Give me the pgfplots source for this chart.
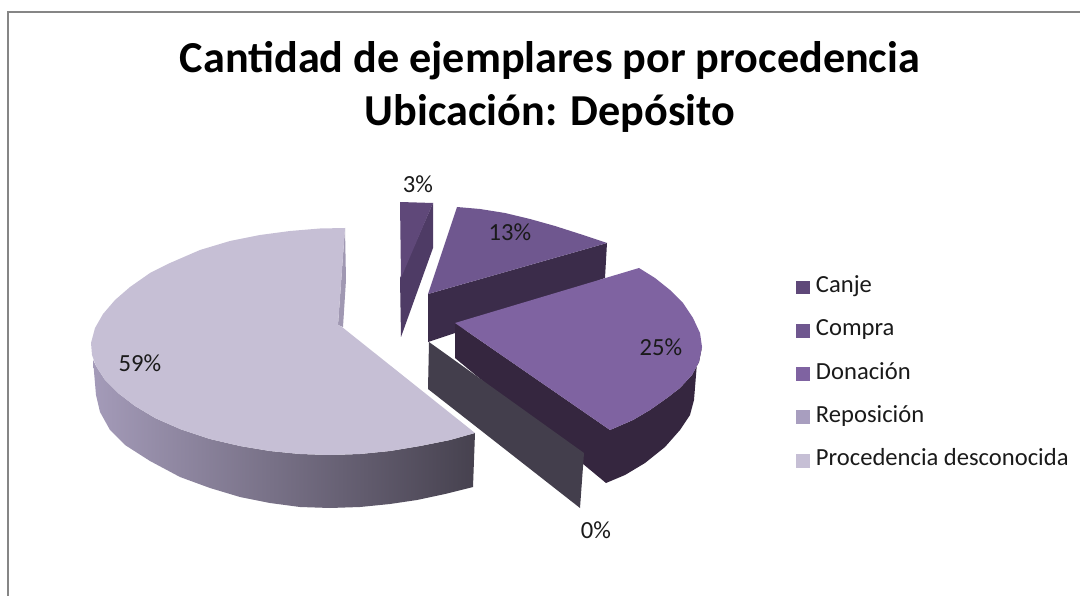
\documentclass[border=0pt]{standalone}
\usepackage{pgfplots}
\pgfplotsset{compat=1.18}
\usepackage{fontspec}
\setmainfont{Carlito}
\definecolor{canjeT}{HTML}{5F4879}
\definecolor{canjeS}{HTML}{4E3B65}
\definecolor{compT}{HTML}{6F578F}
\definecolor{compS}{HTML}{3B2C4A}
\definecolor{donT}{HTML}{7F63A1}
\definecolor{donS}{HTML}{35263F}
\definecolor{repS}{HTML}{433E4C}
\definecolor{repL}{HTML}{A89EBF}
\definecolor{procT}{HTML}{C6BFD5}
\definecolor{frame}{HTML}{868686}
\definecolor{txt}{HTML}{1A1A1A}
\begin{document}
\begin{tikzpicture}
\path[use as bounding box] (0,0) rectangle (1080pt,596pt);
\begin{axis}[
  width=1080pt,height=596pt,scale only axis,
  xmin=0,xmax=1080,ymin=0,ymax=596,y dir=reverse,
  hide axis,
  legend style={at={(796.5/1080,1-274.5/596)},anchor=north west,draw=none,fill=none,
    font=\fontsize{24.6}{26}\selectfont,row sep=18.3pt,inner sep=0pt,
    nodes={text=txt,text height=16pt,text depth=5pt,inner xsep=6.5pt}},
  legend cell align=left,
]
% frame
\addplot[frame,line width=1.6pt,forget plot] coordinates {(8,596)(8,12)(1080,12)};
% Procedencia desconocida: side
\addplot[draw=none,shade,left color=repL!90!gray,right color=repS!95!gray,forget plot] coordinates {
(93,360)(96,366)(105,380)(118,393)(135,406)(155,418)(180,429)(210,439)(240,446)(270,451)(300,454)(330,455)(360,454)(390,451)(420,446)(450,440)(475,433)
(473,487)(445,494)(417,500)(390,504)(360,507)(330,508)(300,507)(270,503)(240,497)(210,488)(180,477)(150,461)(125,445)(110,430)(100,412)(96,395)} -- cycle;
\addplot[draw=none,fill=repL!80!gray,forget plot] coordinates {(345,228)(346,280)(343,327)(338,325)} -- cycle;
\addplot[draw=none,fill=procT,forget plot] coordinates {
(345,228)(320,228.5)(290,231)(260,235)(230,241)(200,250)(170,263)(150,273)(130,287)(115,300)(103,314)(95,328)(91,343)(92,355)(96,366)(105,380)(118,393)(135,406)(155,418)(180,429)(210,439)(240,446)(270,451)(300,454)(330,455)(360,454)(390,451)(420,446)(450,440)(475,433)(342,327)(338,325)} -- cycle;
% Canje
\addplot[draw=none,fill=canjeS,forget plot] coordinates {(433,203)(433,248)(401,337)(400,278)} -- cycle;
\addplot[draw=none,fill=canjeT,forget plot] coordinates {(400,202)(433,203)(401,278)} -- cycle;
% Compra
\addplot[draw=none,fill=compS,forget plot] coordinates {(428,294)(607,243)(605,278)(455,333)(428,342)} -- cycle;
\addplot[draw=none,fill=compT,forget plot] coordinates {(457,207)(480,209)(505,213)(530,219)(555,226)(580,234)(607,243)(428,294)} -- cycle;
% Donacion
\addplot[draw=none,fill=donS,forget plot] coordinates {(455,323)(610,430)(633,420)(650,410)(667,398)(680,388)(692,375)(699,362)(702,347)(697,363)(694,400)(690,415)(680,430)(665,447)(645,463)(625,475)(606,483)(455,358)} -- cycle;
\addplot[draw=none,fill=donT,forget plot] coordinates {(455,323)(639,268)(655,278)(670,290)(683,303)(693,318)(700,333)(702,347)(699,362)(692,375)(680,388)(667,398)(650,410)(633,420)(610,430)} -- cycle;
% Reposicion
\addplot[draw=none,fill=repS,forget plot] coordinates {(429,342)(584,453)(580,508)(428,389)} -- cycle;
% legend
\addlegendimage{only marks,mark=square*,mark size=6.4pt,canjeT}
\addlegendimage{only marks,mark=square*,mark size=6.4pt,compT}
\addlegendimage{only marks,mark=square*,mark size=6.4pt,donT}
\addlegendimage{only marks,mark=square*,mark size=6.4pt,repL}
\addlegendimage{only marks,mark=square*,mark size=6.4pt,procT}
\legend{Canje,Compra,Donación,Reposición,Procedencia desconocida}
% labels
\node[font=\fontsize{24.6}{26}\selectfont,text=txt] at (axis cs:418,184) {3\%};
\node[font=\fontsize{24.6}{26}\selectfont,text=txt] at (axis cs:510,232) {13\%};
\node[font=\fontsize{24.6}{26}\selectfont,text=txt] at (axis cs:661,347) {25\%};
\node[font=\fontsize{24.6}{26}\selectfont,text=txt] at (axis cs:140,363) {59\%};
\node[font=\fontsize{24.6}{26}\selectfont,text=txt] at (axis cs:596,530) {0\%};
% title
\node[font=\fontsize{44.2}{53}\selectfont\bfseries,align=center,text=black] at (axis cs:550,87) {Cantidad de ejemplares por procedencia\\Ubicación: Depósito};
\end{axis}
\end{tikzpicture}
\end{document}
